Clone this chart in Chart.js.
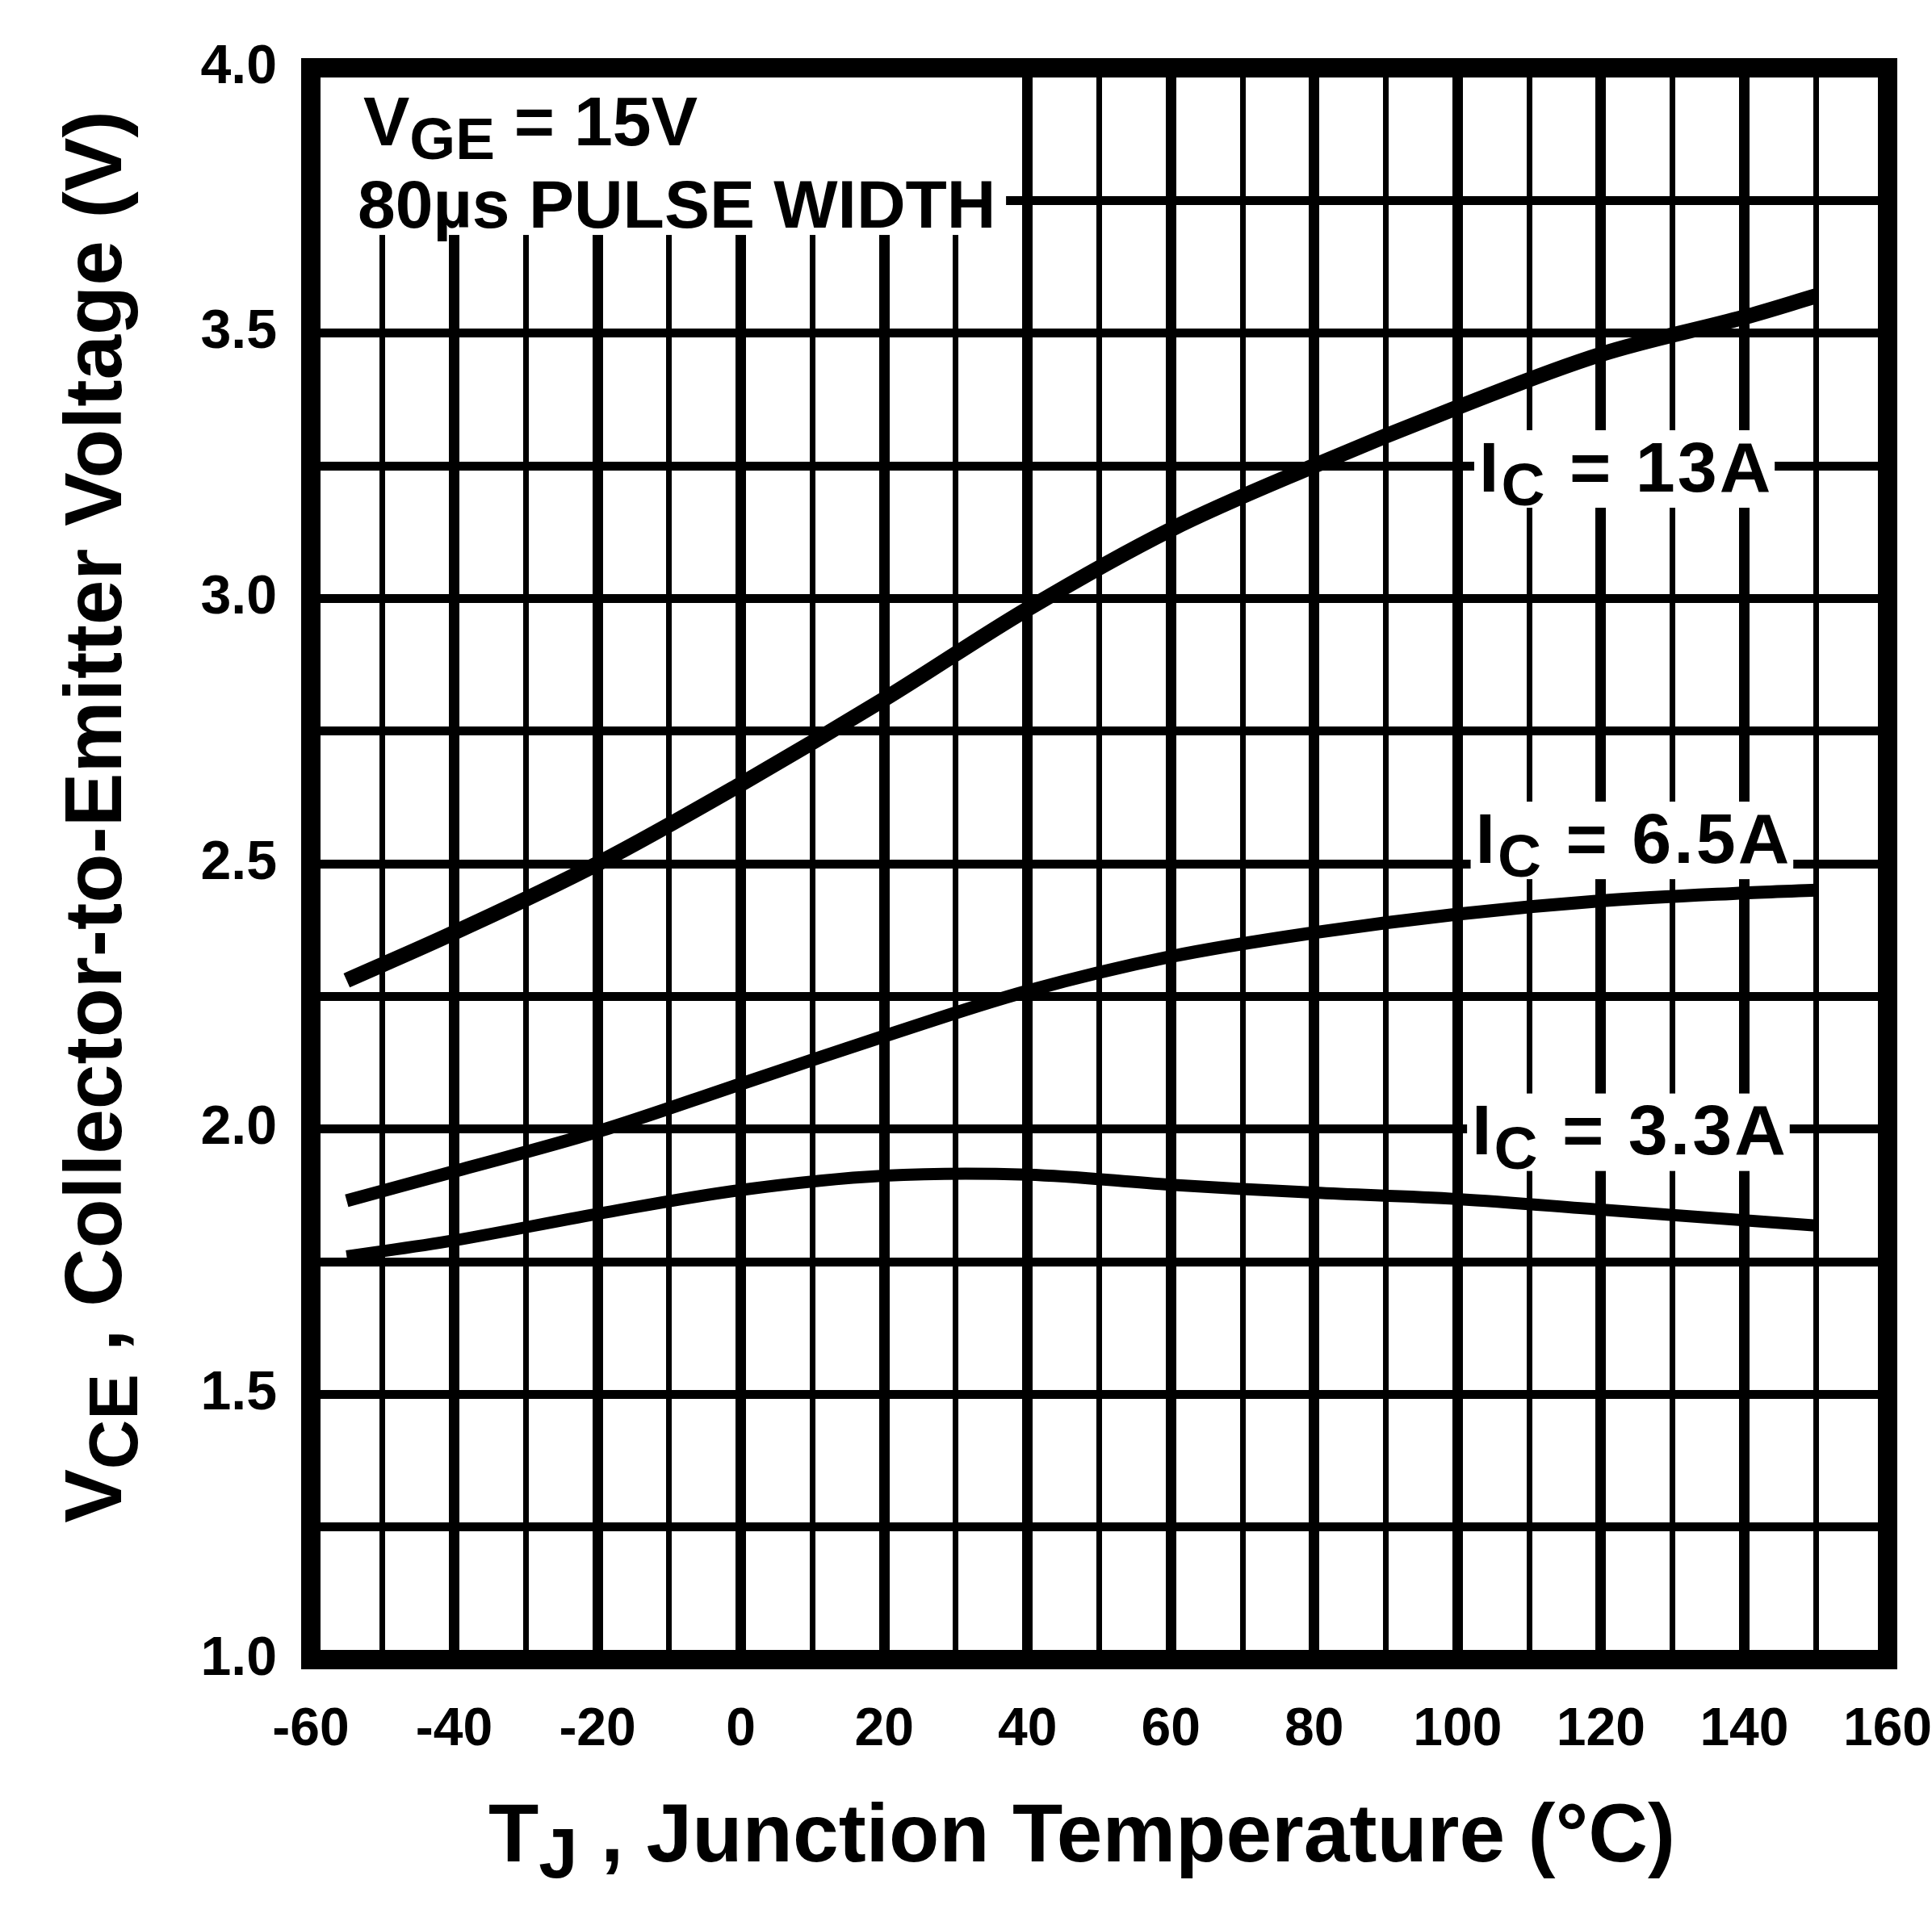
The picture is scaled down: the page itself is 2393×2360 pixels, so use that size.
<!DOCTYPE html>
<html><head><meta charset="utf-8">
<script src="https://cdn.jsdelivr.net/npm/chart.js@4.4.1/dist/chart.umd.min.js"></script>
<style>html,body{margin:0;padding:0;background:#fff;}canvas{display:block}</style>
</head><body>
<canvas id="c" width="2393" height="2360"></canvas>
<script>
// ---- data ----
const temperatures = [-55, -40, -20, 0, 20, 40, 60, 80, 100, 120, 140, 150];
const vce13A  = [2.28, 2.37, 2.50, 2.65, 2.81, 2.98, 3.13, 3.25, 3.36, 3.46, 3.53, 3.57];
const vce6_5A = [1.865, 1.92, 1.995, 2.085, 2.175, 2.26, 2.325, 2.37, 2.405, 2.43, 2.445, 2.45];
const vce3_3A = [1.76, 1.79, 1.84, 1.885, 1.912, 1.914, 1.895, 1.88, 1.868, 1.848, 1.828, 1.818];
const xTickLabels = [-60, -40, -20, 0, 20, 40, 60, 80, 100, 120, 140, 160];
const yTickLabels = ['1.0', '1.5', '2.0', '2.5', '3.0', '3.5', '4.0'];
const seriesLabels = [
  {main: 'I', sub: 'C', rest: ' = 13A', t: 103, v: 3.25},
  {main: 'I', sub: 'C', rest: ' = 6.5A', t: 102.5, v: 2.55},
  {main: 'I', sub: 'C', rest: ' = 3.3A', t: 102, v: 2.0}
];

const FONT = '"Liberation Sans", Arial, Helvetica, sans-serif';
const toPts = ys => temperatures.map((t, i) => ({x: t, y: ys[i]}));

function richWidth(ctx, parts, size) {
  let w = 0;
  for (const p of parts) {
    ctx.font = 'bold ' + (p.sub ? size * 0.85 : size) + 'px ' + FONT;
    w += ctx.measureText(p.t).width;
  }
  return w;
}
function drawRich(ctx, parts, x, y, size) {
  let cx = x;
  for (const p of parts) {
    const s = p.sub ? size * 0.85 : size;
    ctx.font = 'bold ' + s + 'px ' + FONT;
    ctx.fillText(p.t, cx, p.sub ? y + size * 0.2 : y);
    cx += ctx.measureText(p.t).width;
  }
}

const LABEL_SIZE = 88;
const decor = {
  id: 'decor',
  beforeDatasetsDraw(chart) {
    const {ctx, chartArea: a, scales: {x, y}} = chart;
    ctx.save();
    ctx.fillStyle = '#fff';
    ctx.fillRect(a.left, a.top, x.getPixelForValue(37) - a.left, y.getPixelForValue(3.685) - a.top);
    ctx.letterSpacing = '3px';
    for (const L of seriesLabels) {
      const parts = [{t: L.main}, {t: L.sub, sub: true}, {t: L.rest}];
      const w = richWidth(ctx, parts, LABEL_SIZE);
      const lx = x.getPixelForValue(L.t);
      const cy = y.getPixelForValue(L.v);
      ctx.fillRect(lx - 6, cy - 44, w + 8, 96);
    }
    ctx.restore();
  },
  afterDraw(chart) {
    const {ctx, chartArea: a, scales: {x, y}} = chart;
    ctx.save();
    ctx.strokeStyle = '#000';
    ctx.lineWidth = 24;
    ctx.strokeRect(a.left, a.top, a.right - a.left, a.bottom - a.top);
    ctx.fillStyle = '#000';
    ctx.textBaseline = 'alphabetic';
    ctx.textAlign = 'left';
    drawRich(ctx, [{t: 'V'}, {t: 'GE', sub: true}, {t: ' = 15V'}], 450, 180, 86);
    drawRich(ctx, [{t: '80\u00b5s PULSE WIDTH'}], 443, 282, 84);
    ctx.letterSpacing = '3px';
    for (const L of seriesLabels) {
      const parts = [{t: L.main}, {t: L.sub, sub: true}, {t: L.rest}];
      const lx = x.getPixelForValue(L.t);
      const cy = y.getPixelForValue(L.v);
      drawRich(ctx, parts, lx, cy + LABEL_SIZE * 0.36, LABEL_SIZE);
    }
    ctx.letterSpacing = '0px';
    const xt = [{t: 'T'}, {t: 'J', sub: true}, {t: ' , Junction Temperature (\u00b0C)'}];
    const xw = richWidth(ctx, xt, 102);
    drawRich(ctx, xt, 1340 - xw / 2, 2306, 102);
    const yt = [{t: 'V'}, {t: 'CE', sub: true}, {t: ' , Collector-to-Emitter Voltage (V)'}];
    const yw = richWidth(ctx, yt, 100);
    ctx.translate(150, 1012);
    ctx.rotate(-Math.PI / 2);
    drawRich(ctx, yt, -yw / 2, 0, 100);
    ctx.restore();
  }
};

const lineDs = (label, data, w) => ({
  label, data: toPts(data), borderColor: '#000', backgroundColor: '#000',
  borderWidth: w, pointRadius: 0, tension: 0.35,
  borderCapStyle: 'butt', fill: false
});

new Chart(document.getElementById('c'), {
  type: 'line',
  data: {
    datasets: [
      lineDs('IC = 13A', vce13A, 19),
      lineDs('IC = 6.5A', vce6_5A, 16),
      lineDs('IC = 3.3A', vce3_3A, 15)
    ]
  },
  options: {
    responsive: false,
    devicePixelRatio: 1,
    animation: false,
    layout: {padding: {left: 0, top: 84, right: 55, bottom: 0}},
    plugins: {legend: {display: false}, tooltip: {enabled: false}},
    scales: {
      x: {
        type: 'linear', min: -60, max: 160,
        afterFit: s => { s.height = 304; s.paddingLeft = 0; s.paddingRight = 0; },
        afterBuildTicks: s => {
          const t = [];
          for (let v = -60; v <= 160; v += 10) t.push({value: v});
          s.ticks = t;
        },
        ticks: {
          autoSkip: false, maxRotation: 0, padding: 48, color: '#000',
          font: {family: FONT, size: 66, weight: 'bold'},
          callback: v => xTickLabels.includes(v) ? String(v) : ''
        },
        grid: {
          drawTicks: false, color: '#000',
          lineWidth: c => (c.tick && Math.round(c.tick.value) % 20 === 0) ? 13 : 7
        },
        border: {display: false}
      },
      y: {
        type: 'linear', min: 1, max: 4,
        afterFit: s => { s.width = 385; s.paddingTop = 0; s.paddingBottom = 0; },
        afterBuildTicks: s => {
          const t = [];
          for (let v = 1; v <= 4.0001; v += 0.25) t.push({value: Math.round(v * 100) / 100});
          s.ticks = t;
        },
        ticks: {
          autoSkip: false, padding: 42, color: '#000',
          font: {family: FONT, size: 68, weight: 'bold'},
          callback: v => { const s = Number(v).toFixed(1); return (Math.abs(v * 2 - Math.round(v * 2)) < 1e-6 && yTickLabels.includes(s)) ? s : ''; }
        },
        grid: {drawTicks: false, color: '#000', lineWidth: 11},
        border: {display: false}
      }
    }
  },
  plugins: [decor]
});
</script>
</body></html>
